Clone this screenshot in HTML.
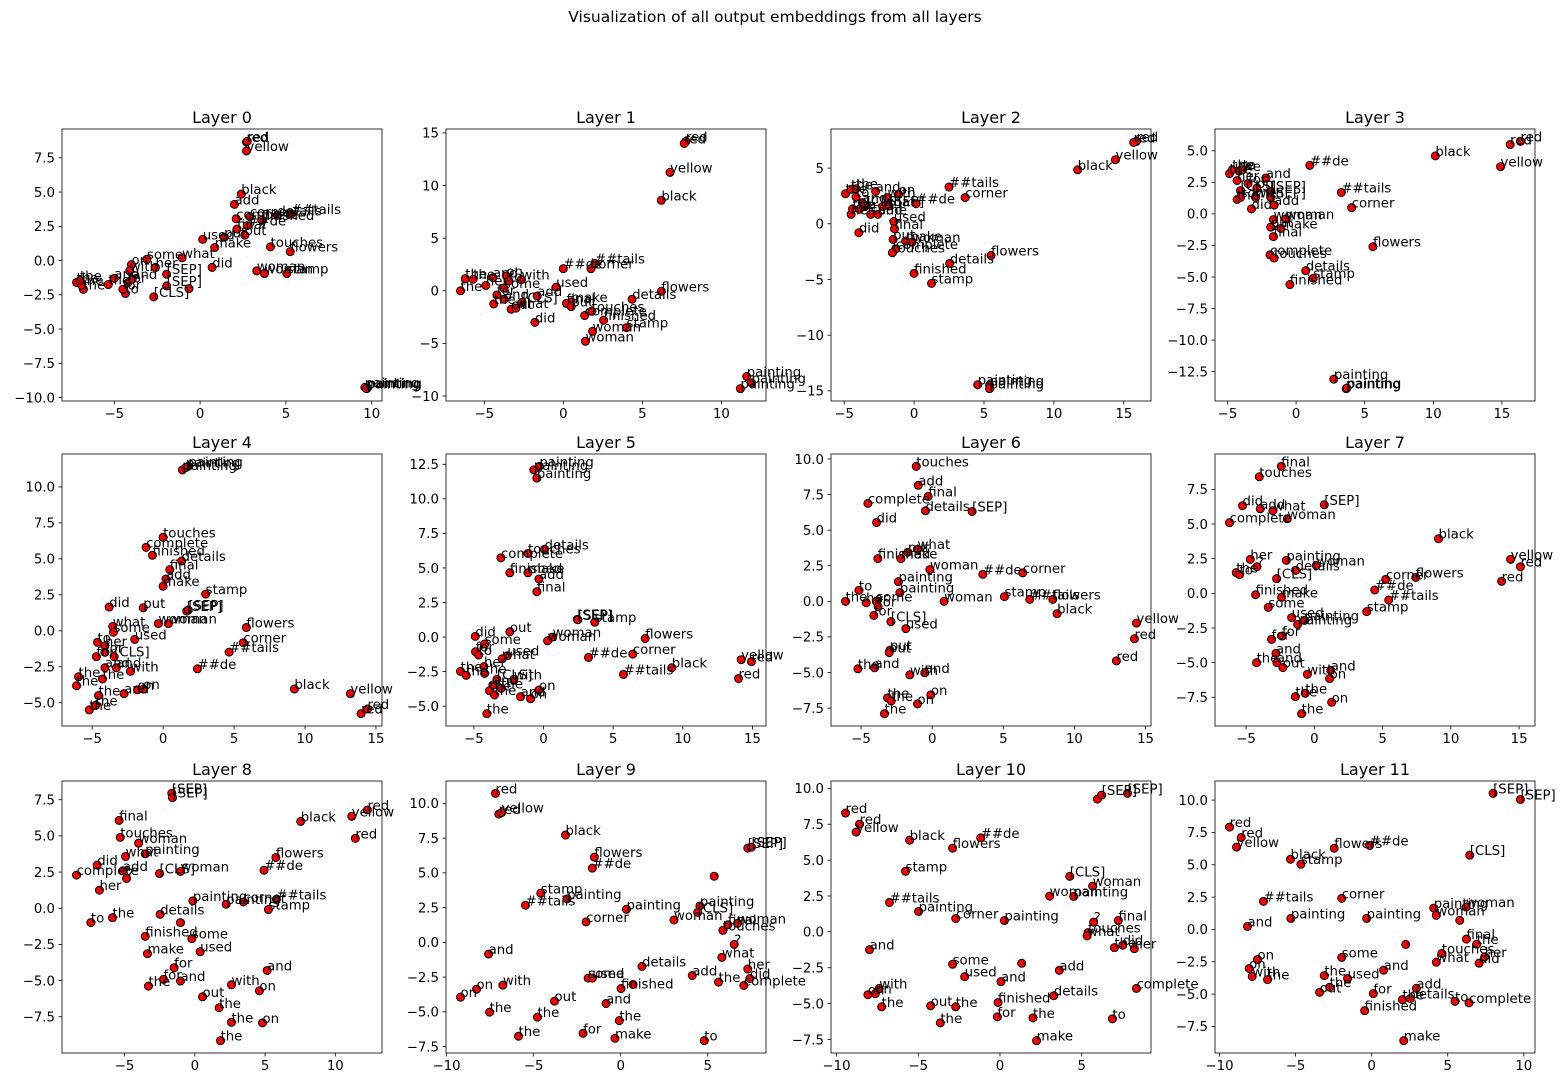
<!DOCTYPE html>
<html><head><meta charset="utf-8"><style>
html,body{margin:0;padding:0;background:#fff;}
svg{display:block;font-family:"DejaVu Sans","Liberation Sans",sans-serif;}
</style></head><body>
<svg id="fig" width="1568" height="1087" viewBox="0 0 1568 1087" xmlns="http://www.w3.org/2000/svg">
<rect x="0" y="0" width="1568" height="1087" fill="#fff"/>
<text x="775" y="22" font-size="15.5" text-anchor="middle">Visualization of all output embeddings from all layers</text>
</svg>
<script>
const w0=["red","red","yellow","black","add","complete","corner","finished","details","##tails","##de","final","out","put","used","make","touches","flowers","what","some","did","her","on","with","[SEP]","[SEP]",".","[CLS]","to","for","for","and","and","the","the","the","the","the","woman","woman","stamp","painting","painting","painting"];
const x0=[2.7,2.75,2.7,2.4,2.0,2.1,2.9,3.6,4.5,5.3,2.75,2.15,2.6,1.4,0.15,0.85,4.1,5.25,-1.05,-3.1,0.7,-2.6,-4.0,-4.1,-1.95,-1.95,-0.65,-2.7,-4.35,-4.5,-4.2,-3.95,-5.0,-5.35,-7.2,-6.8,-6.9,-7.0,3.3,3.75,5.05,9.6,9.75,9.7];
const y0=[8.65,8.7,8.0,4.85,4.1,3.05,3.2,2.95,3.3,3.4,2.55,2.3,1.85,1.7,1.55,0.95,1.0,0.65,0.2,0.1,-0.5,-0.5,-0.3,-0.75,-1.0,-1.85,-2.05,-2.65,-2.4,-2.1,-1.6,-1.35,-1.3,-1.75,-1.6,-2.1,-1.8,-1.45,-0.75,-0.95,-0.95,-9.25,-9.3,-9.35];
const w1=["red","red","yellow","black","##de","corner","##tails","used","flowers","details","make","final","put","touches","complete","finished","stamp","woman","woman","did","the","the","the","her","and","on","to","with","some","for","and","the","out","what","[CLS]","add","painting","painting","painting"];
const x1=[7.75,7.65,6.75,6.2,0,1.75,2.0,-0.45,6.2,4.35,0.5,0.2,0.5,1.8,1.35,2.55,4.0,1.85,1.4,-1.8,-6.5,-6.2,-5.7,-4.9,-4.45,-3.6,-3.45,-2.65,-3.75,-4.2,-3.75,-4.4,-3.3,-3.0,-2.6,-1.65,11.6,11.9,11.2];
const y1=[14.2,14.0,11.25,8.6,2.1,2.1,2.6,0.35,-0.05,-0.8,-1.05,-1.2,-1.5,-1.95,-2.35,-2.8,-3.5,-3.85,-4.8,-3.0,0,1.15,1.1,0.5,1.25,1.4,0.95,1.05,0.25,-0.4,-0.8,-1.25,-1.75,-1.65,-1.1,-0.5,-8.15,-8.75,-9.3];
const w2=["red","red","yellow","black","##tails","corner","##de","used","final","put","woman","make","complete","touches","flowers","details","finished","stamp","did","the","the","the","to","and","with","on","her","the","for","[CLS]","some","add","what","[SEP]","and","painting","painting","painting"];
const x2=[15.9,15.7,14.4,11.7,2.5,3.65,0.15,-1.45,-1.4,-1.5,-0.15,-0.6,-1.3,-1.55,5.5,2.55,0,1.25,-3.95,-4.9,-4.5,-4.15,-4.15,-2.75,-1.9,-1.1,-4.5,-4.4,-3.9,-3.45,-3.1,-2.6,-2.25,-1.8,-3.7,4.55,5.4,5.4];
const y2=[7.4,7.3,5.75,4.85,3.3,2.35,1.8,0.2,-0.45,-1.4,-1.65,-1.55,-2.25,-2.6,-2.85,-3.55,-4.45,-5.35,-0.8,2.7,3.1,3.15,2.4,2.9,2.35,2.65,0.85,1.35,1.3,1.6,0.85,0.85,1.55,1.6,1.9,-14.45,-14.5,-14.8];
const w3=["red","red","yellow","black","##de","##tails","corner","flowers","woman","woman","make","put","final","complete","touches","details","stamp","finished","did","add","the","the","the","to","her","for","and","on","[SEP]","[CLS]","the","some","with","[SEP]","painting","painting","painting"];
const x3=[16.35,15.6,14.9,10.15,1.0,3.3,4.05,5.6,-1.65,-0.75,-1.1,-1.85,-1.65,-1.9,-1.6,0.7,1.25,-0.45,-3.25,-1.6,-4.85,-4.65,-4.15,-3.9,-4.3,-3.5,-2.2,-2.85,-1.85,-4.05,-4.3,-4.05,-2.95,-1.85,2.75,3.65,3.7];
const y3=[5.75,5.5,3.75,4.6,3.85,1.7,0.5,-2.6,-0.45,-0.4,-1.15,-1.05,-1.8,-3.25,-3.5,-4.5,-5.1,-5.6,0.4,0.7,3.2,3.5,3.4,3.5,2.65,2.4,2.85,2.05,1.8,1.85,1.15,1.3,1.3,1.3,-13.1,-13.85,-13.8];
const w4=["painting","painting","painting","touches","complete","finished","details","final","add","make","stamp","did","put","[SEP]","[SEP]","woman","woman","what","some","used","flowers","corner","##tails","##de","to","her","for","[CLS]","for","and","and","with","the","the","the","on","on","and","the","the","the","black","yellow","red","red"];
const x4=[1.36,1.78,1.6,0,-1.2,-0.75,1.3,0.47,0.2,0,3.0,-3.8,-1.4,1.67,1.78,-0.33,0.37,-3.55,-3.5,-2.0,5.87,5.65,4.65,2.42,-4.62,-4.1,-4.1,-3.45,-4.7,-4.1,-3.3,-2.3,-4.27,-5.96,-6.1,-1.8,-1.4,-2.75,-4.55,-4.75,-5.2,9.25,13.2,14.4,13.95];
const y4=[11.18,11.43,11.35,6.5,5.8,5.25,4.85,4.25,3.6,3.1,2.55,1.65,1.6,1.37,1.45,0.5,0.5,0.3,-0.1,-0.6,0.23,-0.83,-1.48,-2.64,-0.8,-1.05,-1.5,-1.8,-1.8,-2.57,-2.57,-2.82,-3.35,-3.2,-3.82,-4.1,-4.05,-4.37,-4.5,-5.18,-5.5,-4.05,-4.37,-5.44,-5.76];
const w5=["painting","painting","painting","details","touches","complete","finished","make","add","final","[SEP]","[SEP]","stamp","did","out","some","woman","woman","flowers","for","to","used","what","##de","corner","black","yellow","red","red","##tails","her","the","the","the","[CLS]","with","and","the","the","the","on","and","on","the"];
const x5=[-0.3,-0.7,-0.48,0.07,-1.12,-3.06,-2.42,-1.12,-0.33,-0.48,2.42,2.47,3.68,-4.9,-2.42,-4.23,0.29,0.65,7.3,-4.88,-4.66,-2.6,-2.97,3.23,6.41,9.21,14.19,14.93,14.0,5.74,-4.28,-4.23,-5.96,-5.55,-3.35,-2.13,-3.64,-3.88,-3.04,-3.52,-0.33,-1.65,-0.93,-4.07];
const y5=[12.35,12.1,11.5,6.35,6.05,5.73,4.65,4.65,4.2,3.28,1.28,1.25,1.08,0.05,0.38,-0.5,-0.27,0,-0.1,-1.06,-1.3,-1.35,-1.57,-1.47,-1.23,-2.22,-1.64,-1.78,-3.0,-2.7,-2.14,-2.63,-2.48,-2.77,-3.06,-3.06,-3.47,-3.88,-3.71,-4.19,-3.83,-4.31,-4.46,-5.54];
const w6=["touches","add","final","complete","details","[SEP]","did","what","put","finished","make","woman","##de","corner","painting","painting","to","the","her","some","for","for","woman","stamp","##tails","flowers","black","[CLS]","used","yellow","red","red","put","out","the","and","with","and","on","on","the","the","the"];
const x6=[-1.12,-0.98,-0.28,-4.52,-0.47,2.81,-3.91,-1.03,-1.71,-3.82,-2.2,-0.16,3.56,6.37,-2.37,-2.27,-5.15,-6.09,-4.64,-3.93,-3.8,-4.1,0.84,5.08,6.86,8.48,8.78,-2.9,-1.85,14.36,14.22,12.95,-2.97,-3.02,-5.22,-4.05,-1.57,-0.52,-0.09,-1.03,-3.14,-2.88,-3.35];
const y6=[9.48,8.15,7.37,6.88,6.36,6.31,5.54,3.66,3.45,3.0,3.0,2.23,1.9,2.0,1.38,0.61,0.77,0,-0.1,0,-0.38,-0.99,0,0.33,0.14,0.14,-0.87,-1.43,-1.92,-1.53,-2.63,-4.18,-3.43,-3.6,-4.74,-4.67,-5.16,-5.02,-6.57,-7.2,-6.78,-7.0,-7.89];
const w7=["final","touches","did","add","what","woman","[SEP]","complete","black","her","?","painting","details","woman","the","to","[CLS]","corner","flowers","yellow","red","red","##de","##tails","finished","make","some","stamp","used","painting","painting","for","for","and","and","out","the","with","and","on","the","the","on","the"];
const x7=[-2.42,-4.03,-5.26,-3.96,-3.03,-1.98,0.73,-6.21,9.1,-4.69,-4.2,-2.05,-1.37,0.15,-5.72,-5.48,-2.76,5.23,7.43,14.38,15.1,13.72,4.43,5.45,-4.3,-2.4,-3.37,3.84,-1.66,-1.22,-0.71,-2.37,-3.13,-2.81,-2.74,-2.3,-4.23,-0.51,1.2,1.12,-1.39,-0.66,1.27,-0.93];
const y7=[9.16,8.41,6.32,6.1,5.96,5.38,6.39,5.1,3.94,2.45,1.92,2.38,1.66,2.02,1.49,1.35,1.06,1.01,1.15,2.45,1.92,0.87,0.24,-0.48,-0.1,-0.29,-1.01,-1.32,-1.75,-2.24,-1.95,-3.08,-3.32,-4.33,-5.0,-5.36,-5.0,-5.84,-5.55,-6.15,-7.45,-7.21,-7.86,-8.68];
const w8=["[SEP]","[SEP]","final","touches","woman","what","painting","did","complete","add","?","[CLS]","woman","her","black","yellow","red","red","flowers","##de","painting","painting","corner","##tails","stamp","details","to","the",".","finished","some","used","make","for","for","and","the","and","with","on","out","the","the","on","the"];
const x8=[-1.64,-1.59,-5.39,-5.31,-4.0,-4.93,-3.53,-6.95,-8.42,-5.12,-4.86,-2.51,-1.02,-6.79,7.54,11.17,12.29,11.43,5.77,4.93,-0.14,2.23,3.46,5.81,5.24,-2.47,-7.4,-5.86,-1.02,-3.53,-0.21,0.38,-3.37,-1.47,-2.23,-1.02,-3.3,5.15,2.61,4.6,0.55,1.73,2.61,4.82,1.83];
const y8=[7.94,7.64,6.07,4.9,4.5,3.58,3.76,2.98,2.29,2.59,2.06,2.4,2.54,1.25,6.0,6.35,6.79,4.83,3.51,2.63,0.51,0.28,0.44,0.62,-0.09,-0.42,-0.99,-0.65,-0.99,-1.94,-2.1,-3.0,-3.14,-4.11,-4.92,-5.03,-5.38,-4.3,-5.29,-5.7,-6.12,-6.88,-7.88,-7.92,-9.15];
const w9=["red","red","yellow","black","flowers","##de",".","[SEP]","[SEP]","stamp","##tails","painting","painting","corner","woman","painting","[CLS]","final","woman","touches","?","what","her","did","the","complete","add","details","and","some","used","finished",".","on","on","with","out","and","the","the","the","the","for","make","to"];
const x9=[-7.19,-7.0,-6.85,-3.17,-1.51,-1.63,5.37,7.3,7.51,-4.59,-5.47,-3.08,0.33,-1.99,3.06,4.55,4.42,6.16,6.71,5.87,6.52,5.81,7.3,7.42,5.62,7.07,4.11,1.22,-7.59,-1.87,-1.63,0.02,0.71,-8.28,-9.2,-6.77,-3.8,-0.84,-7.53,-4.78,-0.08,-5.87,-2.16,-0.33,4.8];
const y9=[10.72,9.23,9.33,7.72,6.13,5.34,4.76,6.78,6.85,3.53,2.67,3.13,2.38,1.47,1.61,2.62,2.16,1.27,1.37,0.87,-0.14,-1.08,-1.92,-2.6,-2.86,-3.1,-2.38,-1.73,-0.84,-2.57,-2.57,-3.32,-3.03,-3.37,-3.94,-3.08,-4.23,-4.4,-5.02,-5.38,-5.63,-6.75,-6.54,-6.9,-7.07];
const w10=["red","red","yellow","black","##de","flowers",".","[SEP]","[SEP]","stamp","[CLS]","woman","woman","painting","##tails","painting","corner","painting","?","final","touches","what","the","did","her","and","some",".","add","used","and","complete","with","on","on","details","finished","the","out","the","the","for","the","to","make"];
const x10=[-9.45,-8.59,-8.8,-5.53,-1.18,-2.9,5.96,6.22,7.8,-5.78,4.27,5.67,3.04,4.51,-6.76,-4.98,-2.71,0.27,5.73,7.24,5.39,5.33,7.0,7.51,8.22,-7.98,-2.9,1.33,3.63,-2.16,0.06,8.35,-7.39,-7.63,-8.08,3.29,-0.12,-7.24,-4.24,-2.71,-3.65,-0.16,2.02,6.88,2.24];
const y10=[8.28,7.51,6.95,6.39,6.55,5.83,9.25,9.53,9.65,4.22,3.87,3.19,2.49,2.47,2.05,1.42,0.93,0.79,0.68,0.79,-0.05,-0.28,-1.1,-0.93,-1.17,-1.24,-2.26,-2.19,-2.68,-3.12,-3.47,-3.94,-3.94,-4.31,-4.38,-4.45,-4.92,-5.22,-5.15,-5.22,-6.34,-5.92,-5.99,-6.06,-7.58];
const w11=["[SEP]","[SEP]","red","red","yellow","black","stamp","flowers","##de","[CLS]","##tails","corner","painting","painting","painting","woman","woman",".","and","final","the",".","touches","her","did","what","some","on","on","with","the","and","the","used","the","out","for","add","details","the","to","complete","finished","make"];
const x11=[7.98,9.78,-9.34,-8.57,-8.88,-5.33,-4.65,-2.46,-0.13,6.45,-7.11,-1.97,-5.31,-0.33,4.08,6.21,4.25,5.79,-8.16,6.23,6.91,2.24,4.61,7.43,7.06,4.25,-1.97,-7.5,-8.05,-7.85,-6.84,0.79,-3.11,-1.58,-2.76,-3.42,0.11,2.94,2.54,2.02,5.48,6.4,-0.46,2.11];
const y11=[10.52,10.05,7.91,7.11,6.36,5.43,5.04,6.28,6.49,5.74,2.17,2.4,0.85,0.85,1.65,1.73,1.09,0.7,0.23,-0.75,-1.14,-1.16,-1.86,-2.12,-2.61,-2.53,-2.17,-2.33,-3.02,-3.64,-3.88,-3.15,-3.57,-3.8,-4.47,-4.86,-4.96,-4.55,-5.35,-5.43,-5.56,-5.68,-6.28,-8.6];

const xt0=[-5,0,5,10], yt0=[-10,-7.5,-5,-2.5,0,2.5,5,7.5];
const xt1=[-5,0,5,10], yt1=[-10,-5,0,5,10,15];
const xt2=[-5,0,5,10,15], yt2=[-15,-10,-5,0,5];
const xt3=[-5,0,5,10,15], yt3=[-12.5,-10,-7.5,-5,-2.5,0,2.5,5];
const xt4=[-5,0,5,10,15], yt4=[-5,-2.5,0,2.5,5,7.5,10];
const xt5=[-5,0,5,10,15], yt5=[-5,-2.5,0,2.5,5,7.5,10,12.5];
const xt6=[-5,0,5,10,15], yt6=[-7.5,-5,-2.5,0,2.5,5,7.5,10];
const xt7=[-5,0,5,10,15], yt7=[-7.5,-5,-2.5,0,2.5,5,7.5];
const xt8=[-5,0,5,10], yt8=[-7.5,-5,-2.5,0,2.5,5,7.5];
const xt9=[-10,-5,0,5], yt9=[-7.5,-5,-2.5,0,2.5,5,7.5,10];
const xt10=[-10,-5,0,5], yt10=[-7.5,-5,-2.5,0,2.5,5,7.5,10];
const xt11=[-10,-5,0,5,10], yt11=[-7.5,-5,-2.5,0,2.5,5,7.5,10];

const WORDS=[w0,w1,w2,w3,w4,w5,w6,w7,w8,w9,w10,w11];
const XS=[x0,x1,x2,x3,x4,x5,x6,x7,x8,x9,x10,x11];
const YS=[y0,y1,y2,y3,y4,y5,y6,y7,y8,y9,y10,y11];
const XT=[xt0,xt1,xt2,xt3,xt4,xt5,xt6,xt7,xt8,xt9,xt10,xt11];
const YT=[yt0,yt1,yt2,yt3,yt4,yt5,yt6,yt7,yt8,yt9,yt10,yt11];

const NS="http://www.w3.org/2000/svg";
const svg=document.getElementById('fig');
const LEFTS=[62,446,831,1215], TOPS=[129,454,781], PW=320, PH=272;
function mk(tag,attrs,parent){const e=document.createElementNS(NS,tag);for(const k in attrs)e.setAttribute(k,attrs[k]);parent.appendChild(e);return e;}
function fmt(v,step){const s=(Math.abs(step%1)>1e-9)?v.toFixed(1):String(Math.round(v));return s.replace('-','\u2212');}
function extent(a){let mn=Math.min(...a),mx=Math.max(...a);const m=(mx-mn)*0.05;return [mn-m,mx+m];}

for(let i=0;i<12;i++){
  const L=LEFTS[i%4], T=TOPS[Math.floor(i/4)], R=L+PW, B=T+PH;
  const g=mk('g',{},svg);
  
  
  const [xmin,xmax]=extent(XS[i]), [ymin,ymax]=extent(YS[i]);
  const sx=v=>L+(v-xmin)/(xmax-xmin)*PW;
  const sy=v=>B-(v-ymin)/(ymax-ymin)*PH;
  const t=mk('text',{x:L+PW/2,y:T-6,'font-size':16,'text-anchor':'middle'},g);
  
  
  t.textContent='Layer '+i;
  const xs=XT[i], ys=YT[i];
  const xstep=xs[1]-xs[0], ystep=ys[1]-ys[0];
  xs.forEach(v=>{ if(v<xmin||v>xmax) return; const px=sx(v);
    const tk=mk('line',{x1:px,x2:px,y1:B,y2:B+3.5,stroke:'#000','stroke-width':0.8},g);
    
    
    const tl=mk('text',{x:px,y:B+17,'font-size':13.3,'text-anchor':'middle'},g);
    
    
    tl.textContent=fmt(v,xstep);
  });
  ys.forEach(v=>{ if(v<ymin||v>ymax) return; const py=sy(v);
    const tk=mk('line',{x1:L-3.5,x2:L,y1:py,y2:py,stroke:'#000','stroke-width':0.8},g);
    
    
    const tl=mk('text',{x:L-7,y:py+4.8,'font-size':13.3,'text-anchor':'end'},g);
    
    
    tl.textContent=fmt(v,ystep);
  });
  const W=WORDS[i], X=XS[i], Y=YS[i];
  for(let k=0;k<W.length;k++){
    const c=mk('circle',{cx:sx(X[k]),cy:sy(Y[k]),r:4,fill:'#ff0000',stroke:'#000','stroke-width':1},g);
    
    
  }
  for(let k=0;k<W.length;k++){
    const tl=mk('text',{x:sx(X[k]),y:sy(Y[k]),'font-size':13.3,fill:'#000'},g);
    
    
    tl.textContent=W[k];
  }
  const fr=mk('rect',{x:L,y:T,width:PW,height:PH,fill:'none',stroke:'#000','stroke-width':0.8},g);
  
  
}
</script>
</body></html>
